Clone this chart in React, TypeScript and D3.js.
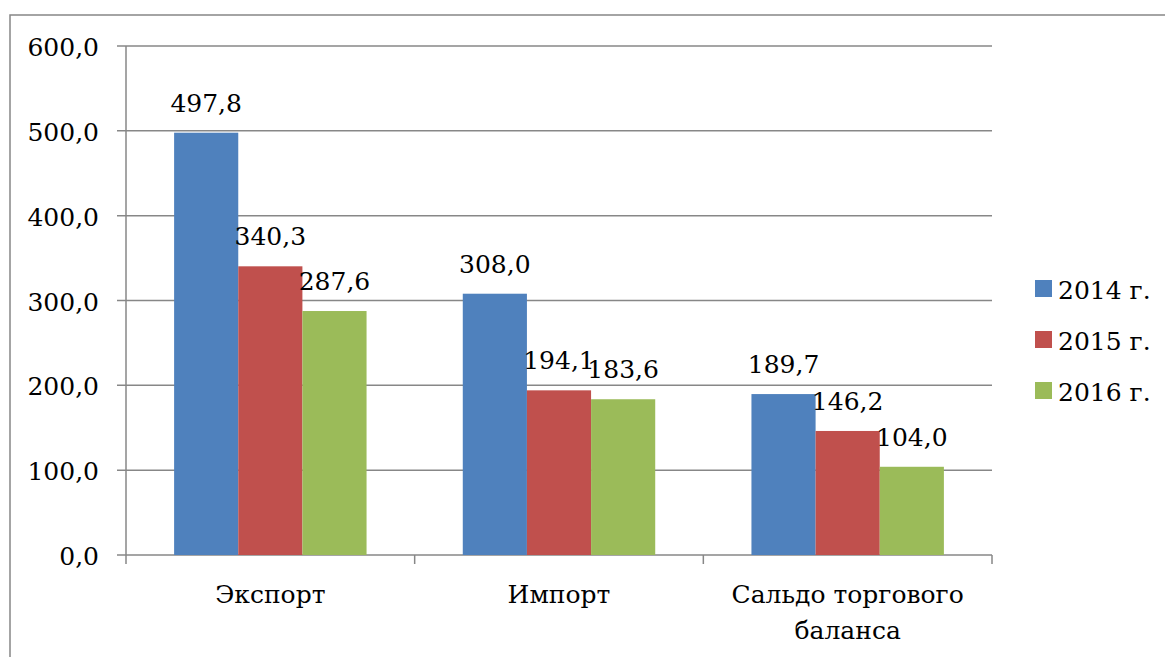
import React from "react";
import * as d3 from "d3";

const categories = ["Экспорт", "Импорт", "Сальдо торгового баланса"];
const categoryLines = [["Экспорт"], ["Импорт"], ["Сальдо торгового", "баланса"]];
const seriesNames = ["2014 г.", "2015 г.", "2016 г."];
const values2014 = [497.8, 308.0, 189.7];
const values2015 = [340.3, 194.1, 146.2];
const values2016 = [287.6, 183.6, 104.0];
const seriesValues = [values2014, values2015, values2016];
const colors = ["#4F81BD", "#C0504D", "#9BBB59"];
const yTicks = [0, 100, 200, 300, 400, 500, 600];

const W = 1165;
const H = 657;
const left = 126;
const right = 992;
const top = 46;
const bottom = 555;
const FONT = "'DejaVu Serif', 'Liberation Serif', serif";
const fmt = (v: number) => v.toFixed(1).replace(".", ",");
const ts = { fontFamily: FONT, fontSize: "25px" };

export default function App() {
  const y = d3.scaleLinear().domain([0, 600]).range([bottom, top]);
  const x0 = d3.scaleBand<string>().domain(categories).range([left, right]).padding(0);
  const bw = x0.bandwidth() / (seriesNames.length + 1.5);
  const x1 = d3
    .scaleBand<string>()
    .domain(seriesNames)
    .range([bw * 0.75, bw * 0.75 + bw * seriesNames.length])
    .padding(0);
  const gray = "#878787";

  return (
    <svg
      width={W}
      height={H}
      style={{ position: "absolute", left: 0, top: 0, background: "#fff" }}
    >
      <rect x={10} y={15} width={1170} height={700} fill="#fff" stroke={gray} strokeWidth={1.5} />
      {yTicks.map((t) => (
        <g key={t}>
          <line x1={117} x2={right} y1={y(t)} y2={y(t)} stroke={gray} strokeWidth={1.5} />
          <text x={99} y={y(t) + 10} textAnchor="end" style={ts} fill="#000">
            {fmt(t)}
          </text>
        </g>
      ))}
      <line x1={left} x2={left} y1={top} y2={bottom} stroke={gray} strokeWidth={1.5} />
      {[left, ...categories.map((c) => (x0(c) as number) + x0.bandwidth())].map((xx, i) => (
        <line key={i} x1={xx} x2={xx} y1={bottom} y2={bottom + 9} stroke={gray} strokeWidth={1.5} />
      ))}
      {categories.map((c, ci) => (
        <g key={c} transform={`translate(${x0(c)},0)`}>
          {seriesNames.map((s, si) => {
            const v = seriesValues[si][ci];
            const bx = x1(s) as number;
            return (
              <g key={s}>
                <rect x={bx} y={y(v)} width={x1.bandwidth()} height={bottom - y(v)} fill={colors[si]} />
                <text
                  x={bx + x1.bandwidth() / 2}
                  y={y(v) - 21}
                  textAnchor="middle"
                  style={ts}
                  fill="#000"
                >
                  {fmt(v)}
                </text>
              </g>
            );
          })}
          {categoryLines[ci].map((ln, li) => (
            <text
              key={li}
              x={x0.bandwidth() / 2}
              y={603 + li * 36}
              textAnchor="middle"
              style={ts}
              fill="#000"
            >
              {ln}
            </text>
          ))}
        </g>
      ))}
      {seriesNames.map((s, i) => (
        <g key={s} transform={`translate(1035,${280 + i * 51})`}>
          <rect x={0} y={0} width={17} height={17} fill={colors[i]} />
          <text x={23} y={18.5} style={ts} fill="#000">
            {s}
          </text>
        </g>
      ))}
    </svg>
  );
}
